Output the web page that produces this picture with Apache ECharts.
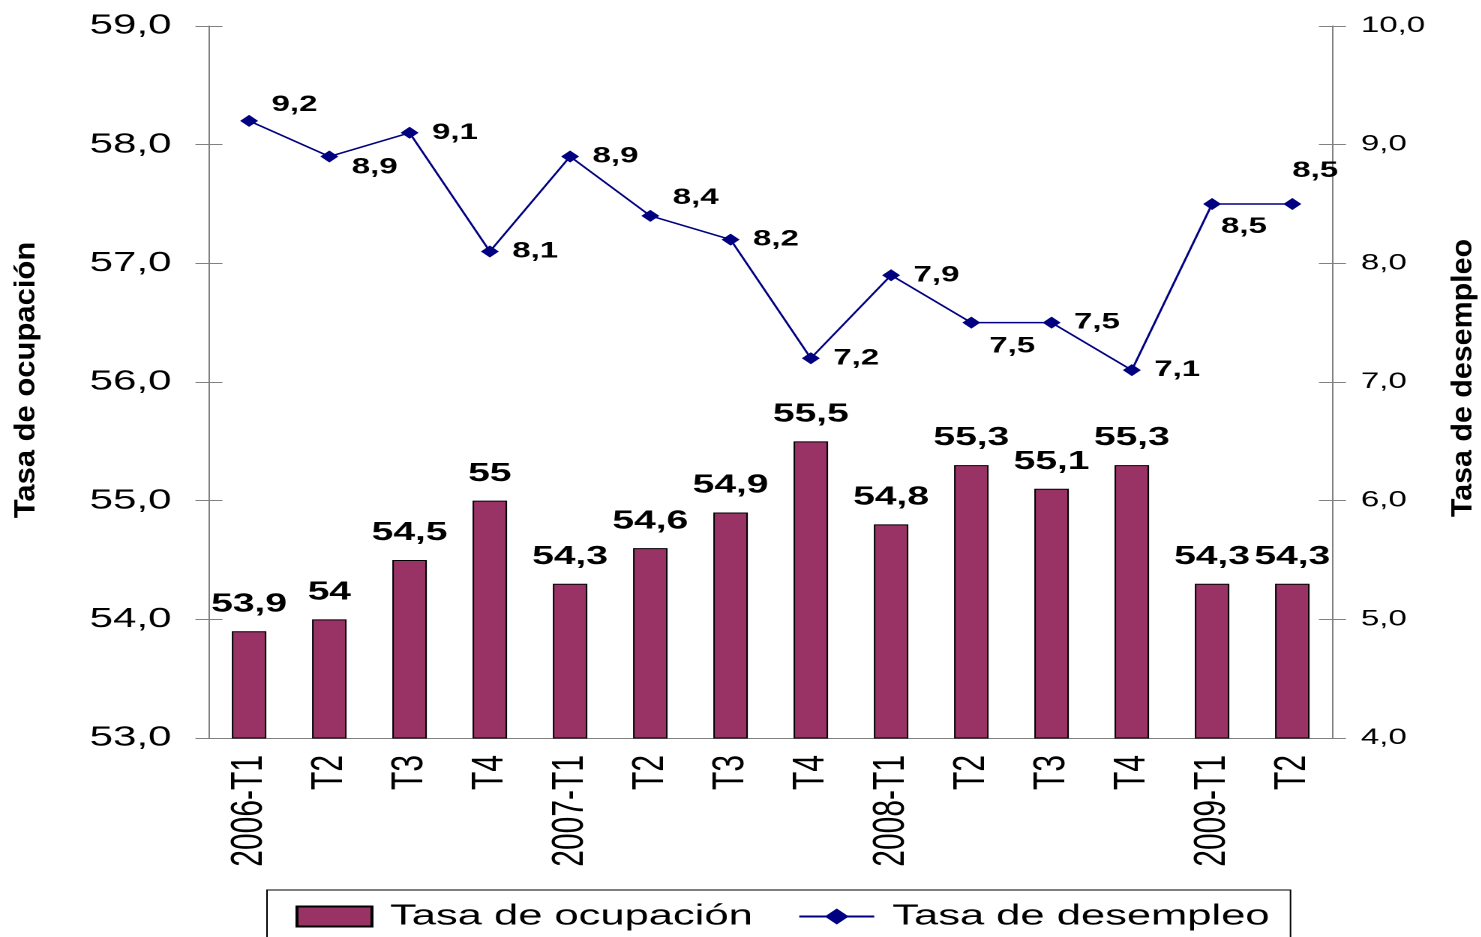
<!DOCTYPE html>
<html>
<head>
<meta charset="utf-8">
<script src="https://cdn.jsdelivr.net/npm/echarts@6/dist/echarts.min.js"></script>
<style>
    html, body { margin: 0; padding: 0; background: #fff; overflow: hidden; }
    /* the original picture is stretched sideways, so the chart is drawn narrow and widened */
    #chart { width: 987px; height: 937px; transform: scaleX(1.5); transform-origin: 0 0; }
</style>
</head>
<body>
<div id="chart"></div>
<script>
var quarters = ['2006-T1', 'T2', 'T3', 'T4', '2007-T1', 'T2', 'T3', 'T4', '2008-T1', 'T2', 'T3', 'T4', '2009-T1', 'T2'];
var ocupacion = [53.9, 54, 54.5, 55, 54.3, 54.6, 54.9, 55.5, 54.8, 55.3, 55.1, 55.3, 54.3, 54.3];
var desempleo = [9.2, 8.9, 9.1, 8.1, 8.9, 8.4, 8.2, 7.2, 7.9, 7.5, 7.5, 7.1, 8.5, 8.5];
var leftTicks = {min: 53, max: 59, interval: 1};
var rightTicks = {min: 4, max: 10, interval: 1};
// small label nudges for the line labels, as in the picture
var labelNudge = [[0, -16], [0, 11], [0, 0], [0, 0], [0, 0], [0, -18], [0, 0],
    [0, 0], [0, 0], [-3, 24], [0, 0], [0, 0], [-9, 23], [-15, -33]];

var font = "'Liberation Sans', Arial, sans-serif";
var comma = function (v) { return String(v).replace('.', ','); };
var oneDec = function (v) { return v.toFixed(1).replace('.', ','); };

var chart = echarts.init(document.getElementById('chart'), null, {devicePixelRatio: 2});

var lineData = desempleo.map(function (v, i) {
    return {value: v, label: {offset: labelNudge[i]}};
});

var option = {
    backgroundColor: '#fff',
    animation: false,
    textStyle: {fontFamily: font},
    grid: {left: 139.3, right: 98.7, top: 26, bottom: 199},
    legend: {
        left: 178,
        top: 890,
        padding: [12, 14, 30, 19],
        itemGap: 30,
        itemWidth: 50,
        itemHeight: 20,
        borderColor: '#000',
        borderWidth: 1,
        textStyle: {fontSize: 29, color: '#000', fontFamily: font, padding: [0, 0, 0, 7]},
        data: [{name: 'Tasa de ocupación', icon: 'rect'}, {name: 'Tasa de desempleo'}]
    },
    xAxis: [
        {
            type: 'category',
            data: quarters,
            axisLine: {lineStyle: {color: '#808080', width: 1}},
            axisTick: {interval: 0, length: 9, lineStyle: {color: '#808080'}},
            axisLabel: {
                interval: 0, rotate: 90, fontSize: 30, color: '#000',
                fontFamily: font, margin: 17
            }
        },
        {
            type: 'category',
            data: quarters,
            position: 'bottom',
            axisLine: {show: false},
            axisTick: {alignWithLabel: true, interval: 0, length: 7, lineStyle: {color: '#808080'}},
            axisLabel: {show: false}
        }
    ],
    yAxis: [
        {
            type: 'value',
            position: 'left',
            min: leftTicks.min, max: leftTicks.max, interval: leftTicks.interval,
            splitLine: {show: false},
            axisLine: {show: true, lineStyle: {color: '#808080', width: 1}},
            axisTick: {show: true, length: 9, lineStyle: {color: '#808080'}},
            axisLabel: {formatter: oneDec, fontSize: 28, color: '#000', fontFamily: font, margin: 25}
        },
        {
            type: 'value',
            position: 'right',
            min: rightTicks.min, max: rightTicks.max, interval: rightTicks.interval,
            splitLine: {show: false},
            axisLine: {show: true, lineStyle: {color: '#808080', width: 1}},
            axisTick: {show: true, length: 9, lineStyle: {color: '#808080'}},
            axisLabel: {formatter: oneDec, fontSize: 22, color: '#000', fontFamily: font, margin: 19}
        },
        {
            type: 'value',
            position: 'left',
            min: leftTicks.min, max: leftTicks.max, interval: leftTicks.interval,
            splitLine: {show: false},
            axisLine: {show: false},
            axisTick: {show: true, inside: true, length: 9, lineStyle: {color: '#808080'}},
            axisLabel: {show: false}
        },
        {
            type: 'value',
            position: 'right',
            min: rightTicks.min, max: rightTicks.max, interval: rightTicks.interval,
            splitLine: {show: false},
            axisLine: {show: false},
            axisTick: {show: true, inside: true, length: 9, lineStyle: {color: '#808080'}},
            axisLabel: {show: false}
        }
    ],
    graphic: [
        {
            type: 'text',
            x: 18, y: 380,
            rotation: Math.PI / 2,
            scaleX: 1.63,
            style: {
                text: 'Tasa de ocupación', font: 'bold 19px ' + font,
                fill: '#000', align: 'center', verticalAlign: 'middle'
            }
        },
        {
            type: 'text',
            x: 976, y: 378,
            rotation: Math.PI / 2,
            scaleX: 1.6,
            style: {
                text: 'Tasa de desempleo', font: 'bold 19px ' + font,
                fill: '#000', align: 'center', verticalAlign: 'middle'
            }
        }
    ],
    series: [
        {
            name: 'Tasa de ocupación',
            type: 'bar',
            yAxisIndex: 0,
            barWidth: 23,
            data: ocupacion,
            itemStyle: {color: '#993366', borderColor: '#000', borderWidth: 1},
            label: {
                show: true, position: 'top', distance: 14,
                formatter: function (p) { return comma(p.value); },
                fontSize: 26, fontWeight: 'bold', color: '#000', fontFamily: font
            }
        },
        {
            name: 'Tasa de desempleo',
            type: 'line',
            yAxisIndex: 1,
            data: lineData,
            symbol: 'diamond',
            symbolSize: 12,
            lineStyle: {color: '#000080', width: 1.5},
            itemStyle: {color: '#000080'},
            label: {
                show: true, position: 'right', distance: 9,
                formatter: function (p) { return comma(p.value); },
                fontSize: 22, fontWeight: 'bold', color: '#000', fontFamily: font
            }
        }
    ]
};

chart.setOption(option);
window.onresize = chart.resize;
</script>
</body>
</html>
